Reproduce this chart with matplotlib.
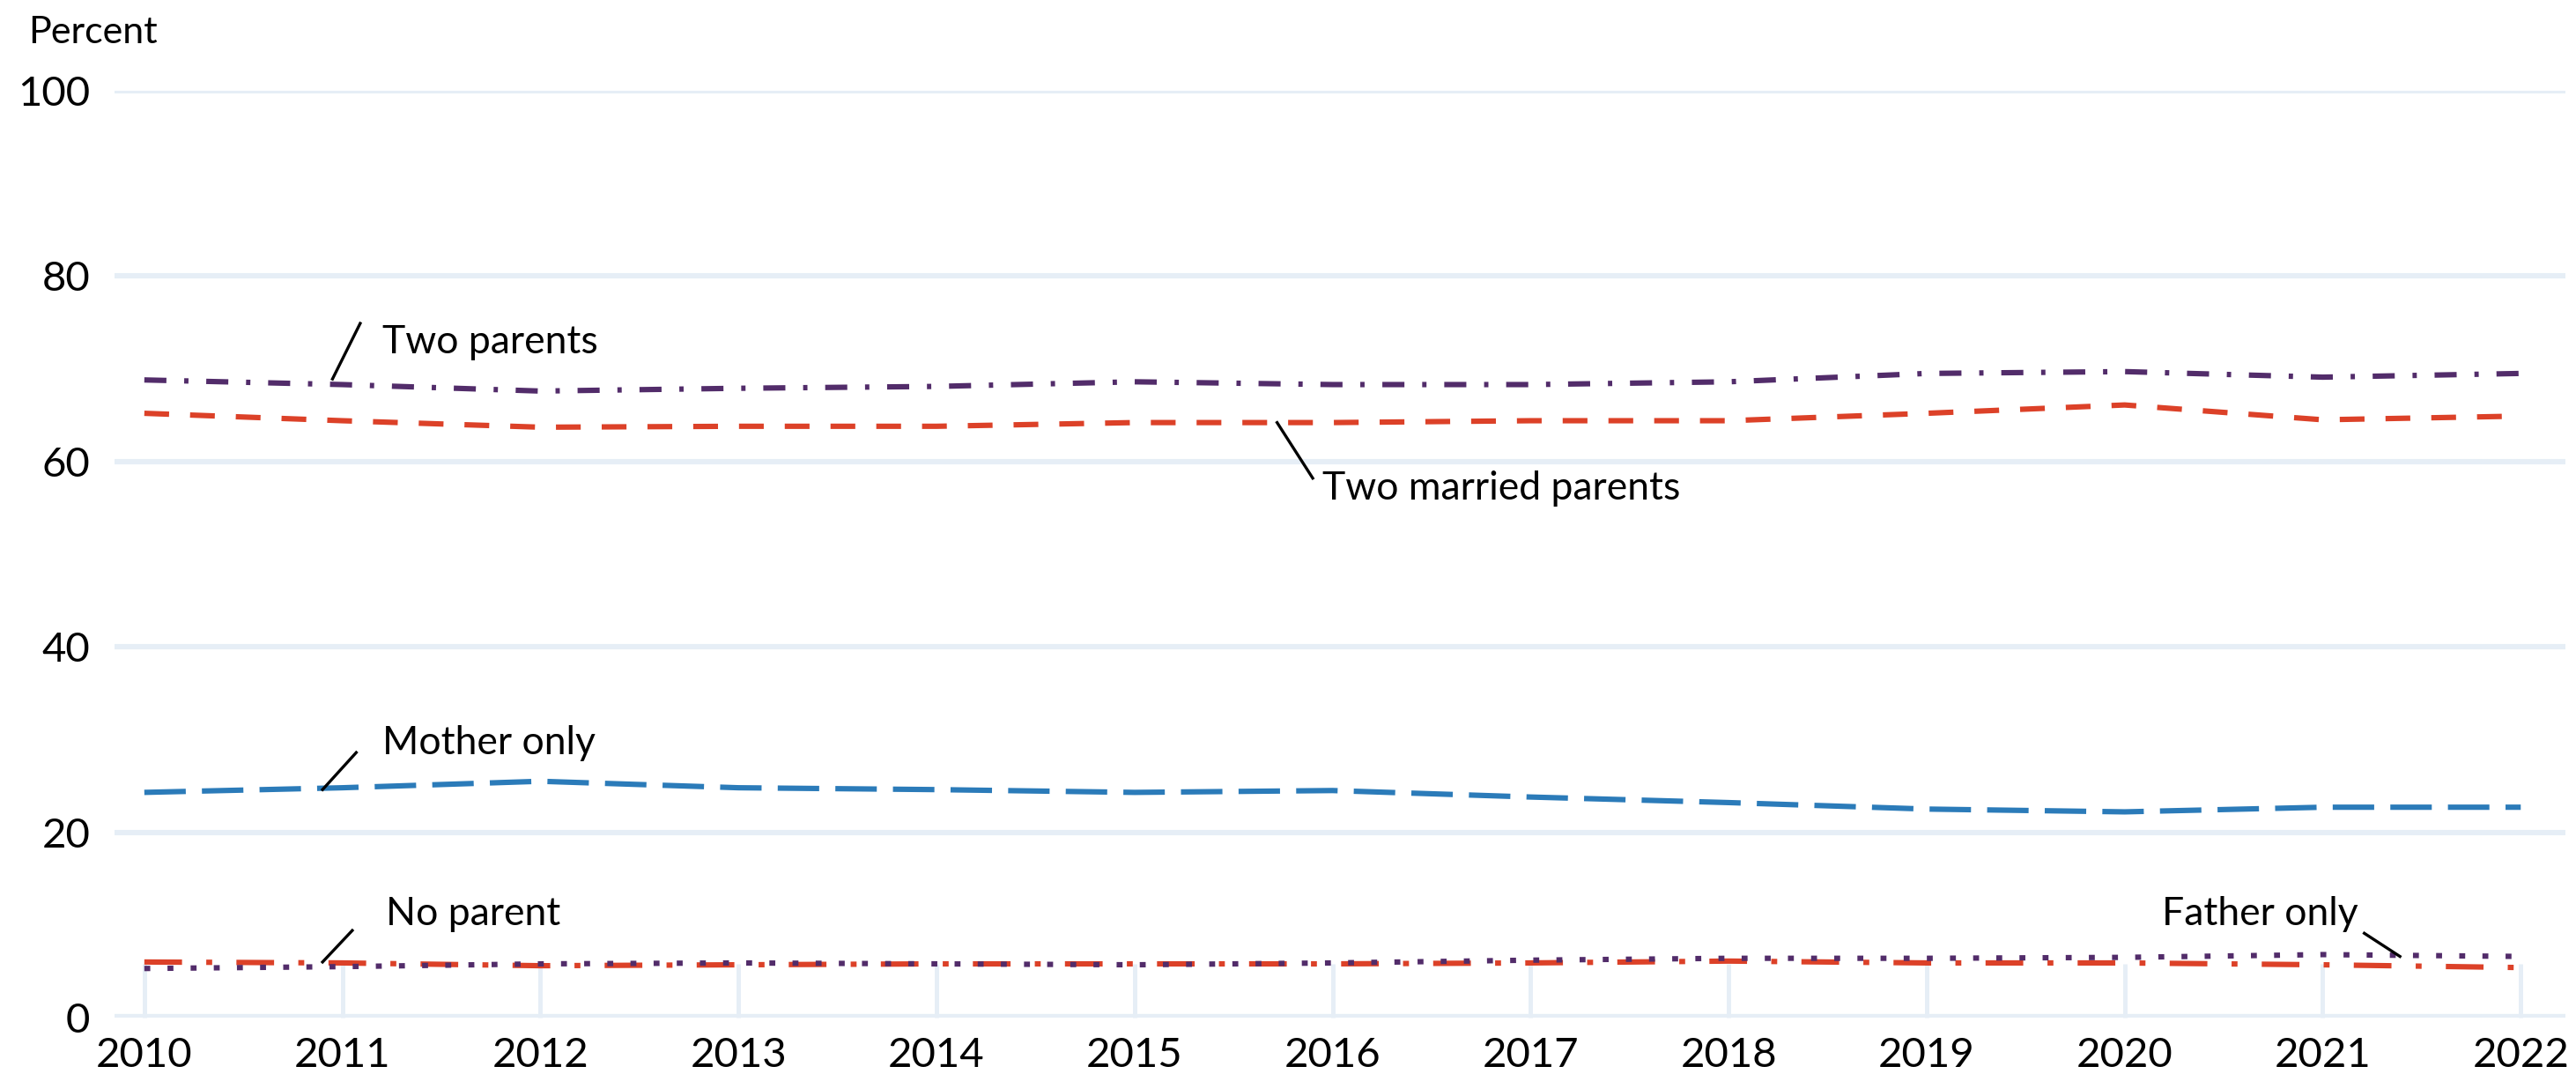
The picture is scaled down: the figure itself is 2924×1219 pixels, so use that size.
import numpy as np
import matplotlib.pyplot as plt

plt.rcParams['font.family'] = ['Lato', 'DejaVu Sans']

years = np.arange(2010, 2023)
two_parents = [68.8, 68.3, 67.6, 67.9, 68.1, 68.6, 68.3, 68.3, 68.6, 69.5, 69.7, 69.1, 69.5]
two_married = [65.2, 64.4, 63.7, 63.8, 63.8, 64.2, 64.2, 64.4, 64.4, 65.2, 66.1, 64.5, 64.9]
mother_only = [24.3, 24.8, 25.5, 24.8, 24.6, 24.3, 24.5, 23.8, 23.2, 22.5, 22.2, 22.7, 22.7]
no_parent = [6.0, 5.9, 5.6, 5.7, 5.8, 5.8, 5.8, 5.9, 6.1, 5.9, 5.9, 5.7, 5.4]
father_only = [5.3, 5.5, 5.8, 5.9, 5.8, 5.7, 5.9, 6.2, 6.4, 6.4, 6.5, 6.8, 6.6]

# label, text position, leader line (x0, y0, x1, y1), alignment
labels = [
    ('Two parents', 2011.2, 72.9, (2011.09, 74.9, 2010.95, 68.9), 'left'),
    ('Two married parents', 2015.95, 57.1, (2015.72, 64.2, 2015.9, 58.2), 'left'),
    ('Mother only', 2011.2, 29.6, (2010.9, 24.6, 2011.07, 28.6), 'left'),
    ('No parent', 2011.22, 11.2, (2010.9, 6.0, 2011.05, 9.4), 'left'),
    ('Father only', 2021.18, 11.2, (2021.21, 9.1, 2021.39, 6.6), 'right'),
]

purple = '#522c6a'
red = '#dc4128'
blue = '#2b7bb9'
grid = '#e6eef6'

fig = plt.figure(figsize=(14.62, 6.095), dpi=200)
ax = fig.add_axes([0.0445, 0.0525, 0.9515, 0.863])

lw = 2.2
ax.plot(years, two_parents, color=purple, lw=lw, ls=(0, (4.1, 3.3, 0.8, 3.3)))
ax.plot(years, two_married, color=red, lw=lw, ls=(0, (4.6, 3.9)))
ax.plot(years, mother_only, color=blue, lw=lw, ls=(0, (7.7, 3.0)))
ax.plot(years, no_parent, color=red, lw=lw, ls=(0, (7.0, 4.5, 1.1, 4.5)))
ax.plot(years, father_only, color=purple, lw=lw, ls=(0, (1.1, 3.2)))

ax.set_xlim(2009.85, 2022.227)
ax.set_ylim(0, 100)
ax.set_yticks([0, 20, 40, 60, 80, 100])
ax.set_xticks(years)
ax.grid(axis='y', color=grid, lw=2.2)
ax.set_axisbelow(True)
for s in ax.spines.values():
    s.set_visible(False)
ax.tick_params(axis='y', length=0, labelsize=17, pad=10)
ax.tick_params(axis='x', direction='in', length=22, width=1.8, color=grid,
               labelsize=17, pad=8)
ax.axhline(0, color=grid, lw=3, zorder=0)

fig.text(0.011, 0.985, 'Percent', fontsize=15.5, va='top', ha='left')

for text, tx, ty, (x0, y0, x1, y1), ha in labels:
    ax.plot([x0, x1], [y0, y1], color='black', lw=1.2)
    ax.text(tx, ty, text, fontsize=16, va='center', ha=ha)

fig.savefig('out.png', dpi=200)
